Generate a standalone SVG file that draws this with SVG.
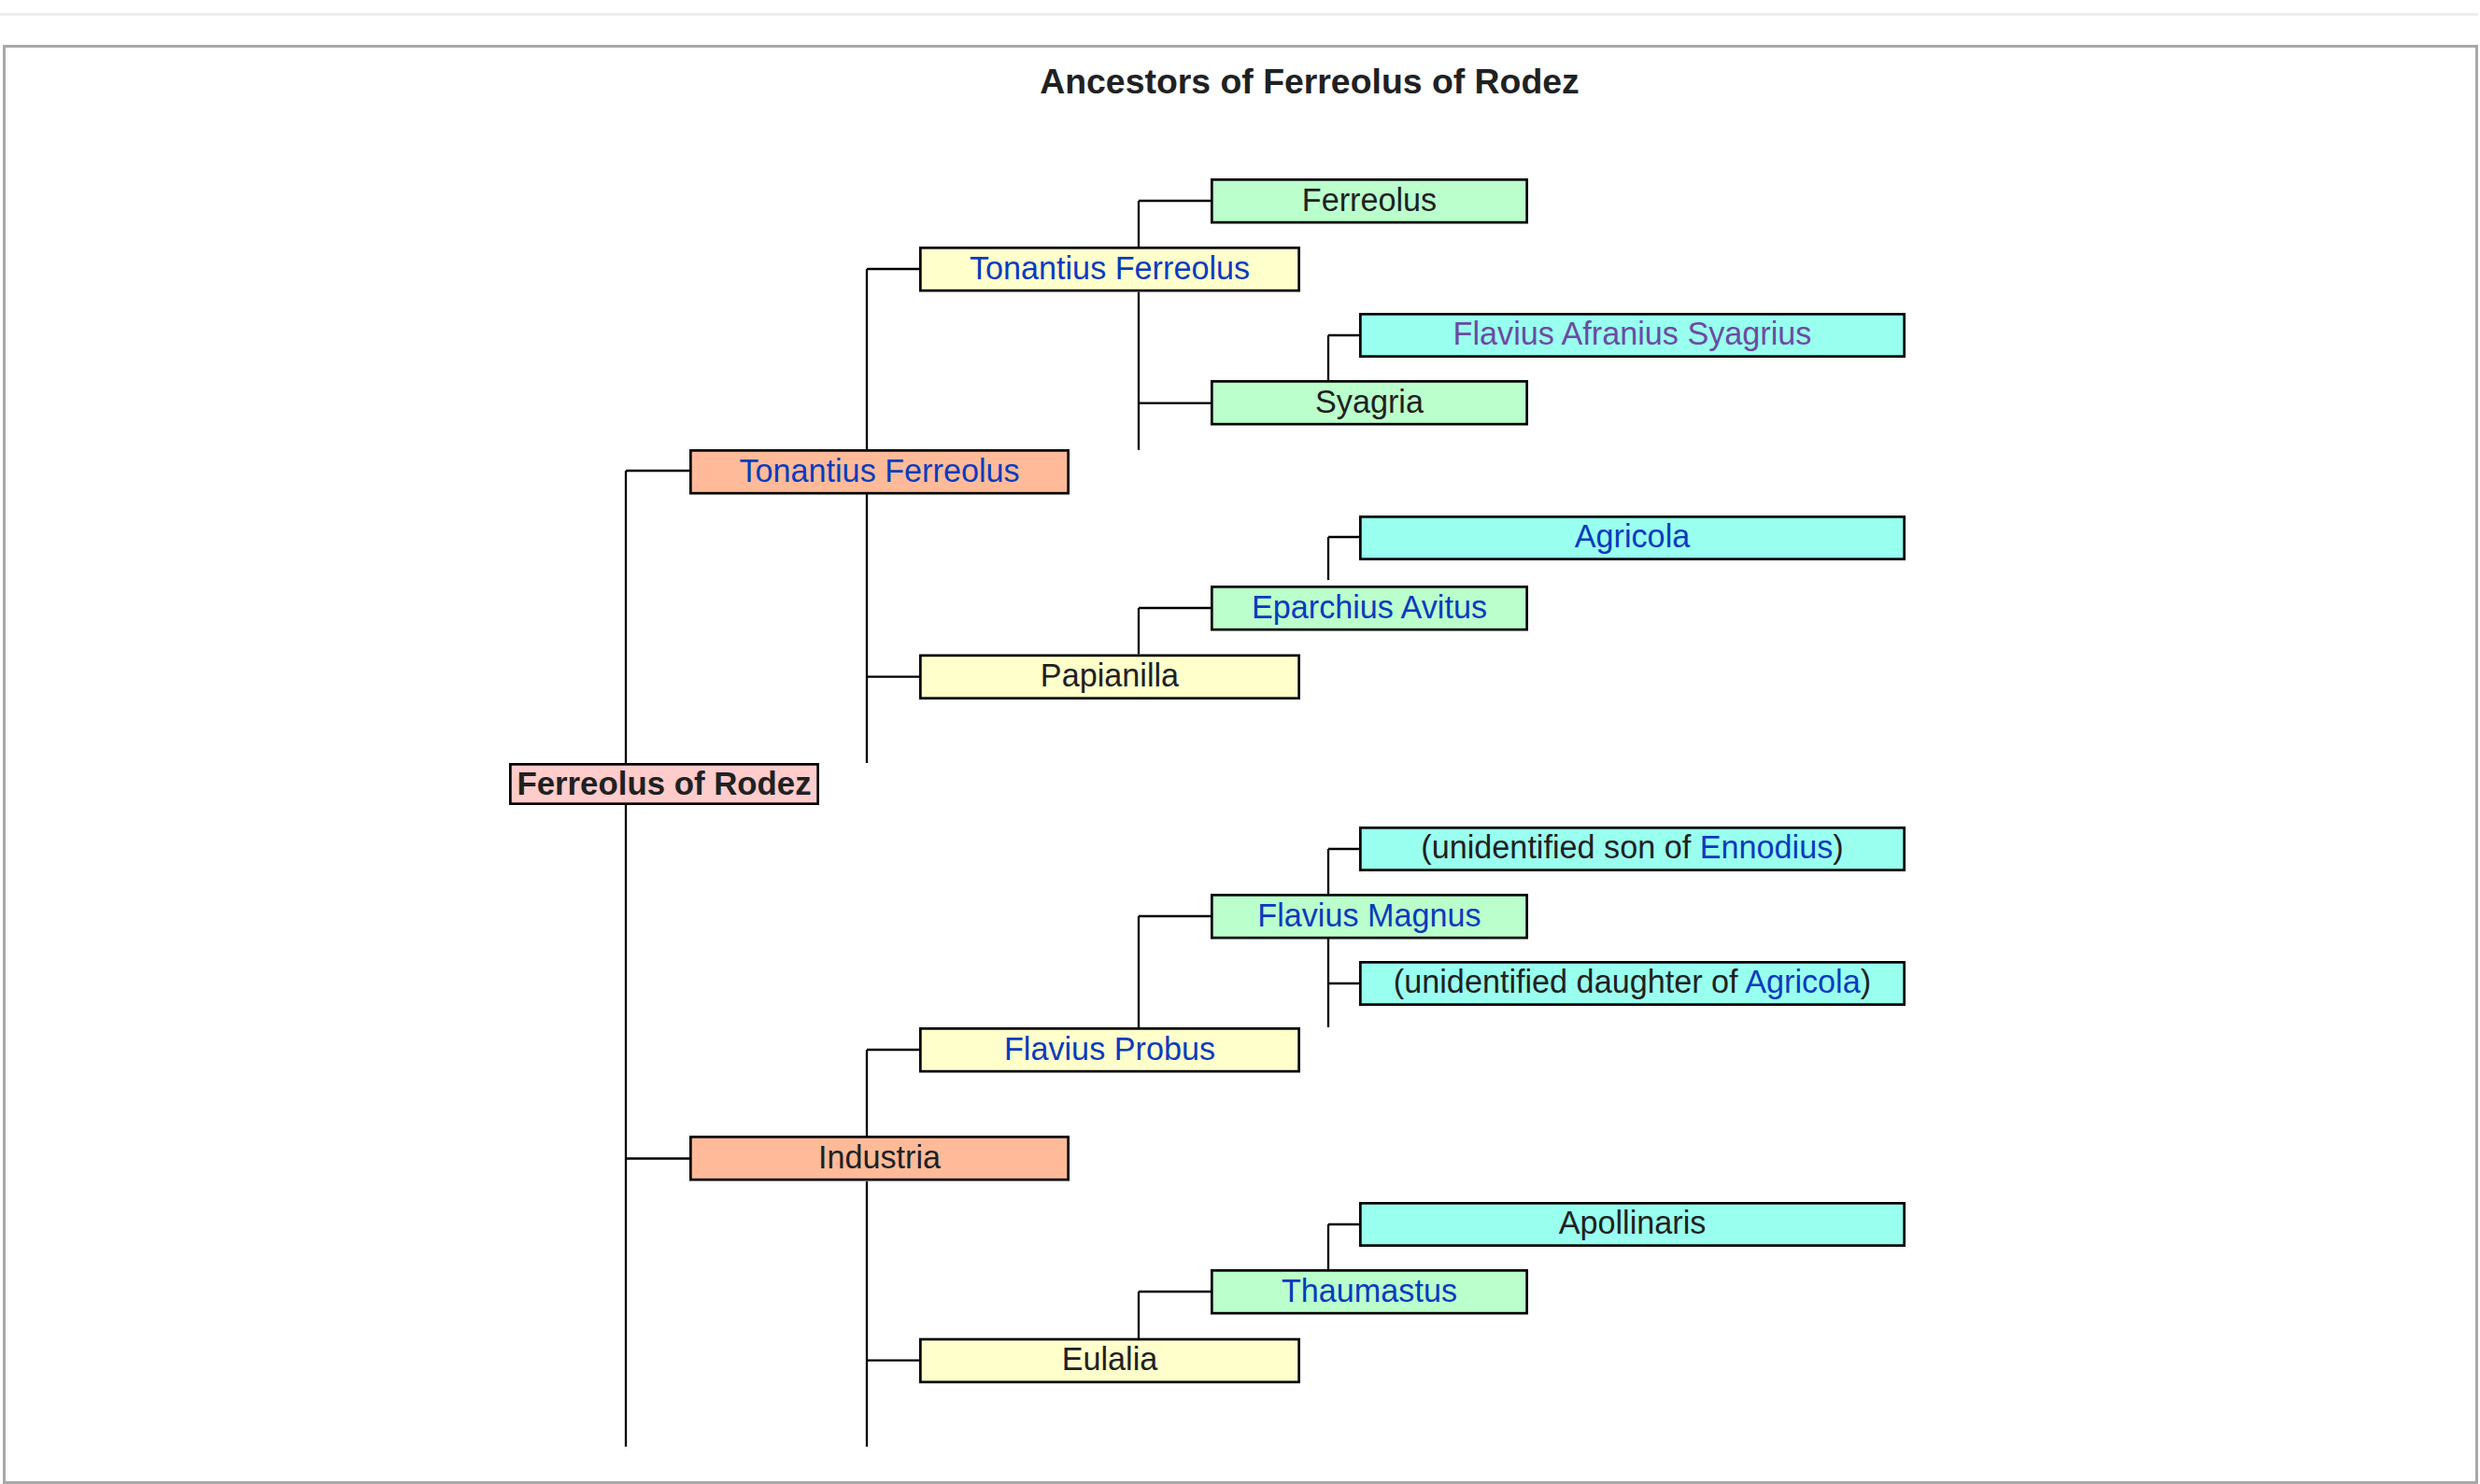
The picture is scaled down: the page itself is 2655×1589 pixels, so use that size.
<svg xmlns="http://www.w3.org/2000/svg" width="2655" height="1589" viewBox="0 0 2655 1589">
<style>
text{font-family:"Liberation Sans",Arial,Helvetica,sans-serif;font-size:34.2px;fill:#202122;text-anchor:middle}
.b{stroke:#000;stroke-width:2.7}
.c1{fill:#ffcccc}.c2{fill:#ffbb99}.c3{fill:#ffffcc}.c4{fill:#bbffcc}.c5{fill:#99ffee}
.lk{fill:#0a3bbd}.vl{fill:#6b4ba1}
#connectors path{stroke:#000;stroke-width:2.3;fill:none}
</style>
<rect x="0" y="14" width="2653" height="2.7" fill="#eaecf0"/>
<rect x="4.5" y="49.5" width="2647" height="1538" fill="#fff" stroke="#a8a8a8" stroke-width="3"/>
<text x="1402" y="99.5" style="font-weight:bold;font-size:37.4px">Ancestors of Ferreolus of Rodez</text>
<g id="connectors">
<path d="M670,504V817M670,862V1549M670,504H738M670,1240.5H738"/>
<path d="M928,288V481M928,529V817M928,288H984M928,724.7H984"/>
<path d="M928,1124V1216M928,1265V1549M928,1124H985M928,1456.7H984"/>
<path d="M1219,215V264M1219,312.7V481.7M1219,215H1296M1219,431.7H1296"/>
<path d="M1219,651V700.5M1219,651H1296"/>
<path d="M1219,981V1100M1219,981H1296"/>
<path d="M1219,1383V1433M1219,1383H1296"/>
<path d="M1422,359V407M1422,359H1455"/>
<path d="M1422,575V621M1422,575H1455"/>
<path d="M1422,909V957M1422,1005V1100M1422,909H1455M1422,1053H1455"/>
<path d="M1422,1311V1359M1422,1311H1455"/>
</g>
<g id="n-root"><rect class="b c1" x="546.35" y="818.35" width="329.3" height="42.3"/><text x="711" y="850.5" style="font-weight:bold;font-size:34.8px">Ferreolus of Rodez</text></g>
<g id="n-tf1"><rect class="b c2" x="739.35" y="482.35" width="404.3" height="45.8"/><text class="lk" x="941.5" y="515.5">Tonantius Ferreolus</text></g>
<g id="n-industria"><rect class="b c2" x="739.35" y="1217.35" width="404.3" height="45.8"/><text x="941.5" y="1250.5">Industria</text></g>
<g id="n-tf2"><rect class="b c3" x="985.35" y="265.35" width="405.3" height="45.8"/><text class="lk" x="1188" y="298.5">Tonantius Ferreolus</text></g>
<g id="n-papianilla"><rect class="b c3" x="985.35" y="701.85" width="405.3" height="45.8"/><text x="1188" y="735">Papianilla</text></g>
<g id="n-probus"><rect class="b c3" x="985.35" y="1101.35" width="405.3" height="45.8"/><text class="lk" x="1188" y="1134.5">Flavius Probus</text></g>
<g id="n-eulalia"><rect class="b c3" x="985.35" y="1434.05" width="405.3" height="45.8"/><text x="1188" y="1467.2">Eulalia</text></g>
<g id="n-ferreolus"><rect class="b c4" x="1297.35" y="192.35" width="337.3" height="45.8"/><text x="1466" y="225.5">Ferreolus</text></g>
<g id="n-syagria"><rect class="b c4" x="1297.35" y="408.35" width="337.3" height="45.8"/><text x="1466" y="441.5">Syagria</text></g>
<g id="n-eparchius"><rect class="b c4" x="1297.35" y="628.35" width="337.3" height="45.8"/><text class="lk" x="1466" y="661.5">Eparchius Avitus</text></g>
<g id="n-magnus"><rect class="b c4" x="1297.35" y="958.35" width="337.3" height="45.8"/><text class="lk" x="1466" y="991.5">Flavius Magnus</text></g>
<g id="n-thaumastus"><rect class="b c4" x="1297.35" y="1360.35" width="337.3" height="45.8"/><text class="lk" x="1466" y="1393.5">Thaumastus</text></g>
<g id="n-fas"><rect class="b c5" x="1456.35" y="336.35" width="582.3" height="45.3"/><text class="vl" x="1747.5" y="369">Flavius Afranius Syagrius</text></g>
<g id="n-agricola"><rect class="b c5" x="1456.35" y="553.35" width="582.3" height="45.3"/><text class="lk" x="1747.5" y="586">Agricola</text></g>
<g id="n-son"><rect class="b c5" x="1456.35" y="886.35" width="582.3" height="45.3"/><text x="1747.5" y="919">(unidentified son of <tspan class="lk">Ennodius</tspan>)</text></g>
<g id="n-daughter"><rect class="b c5" x="1456.35" y="1030.35" width="582.3" height="45.3"/><text x="1747.5" y="1063">(unidentified daughter of <tspan class="lk">Agricola</tspan>)</text></g>
<g id="n-apollinaris"><rect class="b c5" x="1456.35" y="1288.35" width="582.3" height="45.3"/><text x="1747.5" y="1321">Apollinaris</text></g>
</svg>
